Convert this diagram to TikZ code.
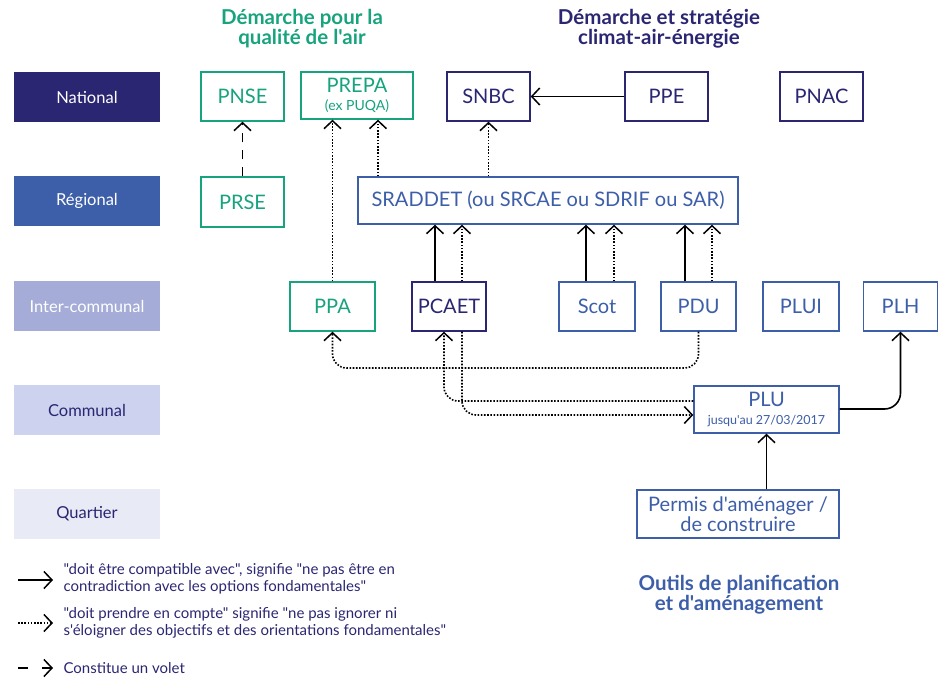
\documentclass[tikz,border=0pt]{standalone}
\usepackage{fontspec}
\setmainfont[Ligatures=TeXOff]{Lato}
\usetikzlibrary{arrows.meta}
\definecolor{cnavy}{HTML}{2A2672}
\definecolor{cblue}{HTML}{3D5EA8}
\definecolor{cgreen}{HTML}{17A37E}
\definecolor{cinter}{HTML}{A4ACD7}
\definecolor{ccomm}{HTML}{CDD2EE}
\definecolor{cquart}{HTML}{E8EAF6}
\newcommand\mytightlines{\lineskiplimit=-30pt\relax}
\tikzset{
  box/.style={draw, line width=1.4pt, fill=white, inner sep=0pt, align=center,
    font=\fontsize{20}{19.5}\selectfont\mytightlines},
  gbox/.style={box, draw=cgreen, text=cgreen},
  nbox/.style={box, draw=cnavy, text=cnavy},
  bbox/.style={box, draw=cblue, text=cblue},
  level/.style={minimum width=146pt, minimum height=50pt, inner sep=0pt,
    font=\fontsize{16.5}{17}\selectfont},
  head/.style={align=center, font=\bfseries\fontsize{20.5}{20}\selectfont\mytightlines},
  legtext/.style={anchor=west, align=left, text=cnavy, font=\fontsize{15}{16.5}\selectfont},
  arr/.style={line width=1.6pt, black, -{Straight Barb[length=8pt,width=17pt,line width=1.5pt]}},
  dotarr/.style={arr, dash pattern=on 1.6pt off 1.6pt, line width=1.6pt},
  dasharr/.style={arr, dash pattern=on 9pt off 8pt},
}
\begin{document}
\begin{tikzpicture}[x=1pt,y=-1pt]
\useasboundingbox (0,0) rectangle (938,680);
% levels
\node[level, fill=cnavy, text=white] (lnat) at (87,97) {National};
\node[level, fill=cblue, text=white] (lreg) at (87,201) {Régional};
\node[level, fill=cinter, text=white] (lint) at (87,306) {Inter-communal};
\node[level, fill=ccomm, text=cnavy] (lcom) at (87,410) {Communal};
\node[level, fill=cquart, text=cnavy] (lqua) at (87,514) {Quartier};
% headings
\node[head, text=cgreen] (h1) at (302,29) {Démarche pour la\\qualité de l'air};
\node[head, text=cnavy] (h2) at (659,29) {Démarche et stratégie\\climat-air-énergie};
\node[head, text=cblue] (h3) at (739,595) {Outils de planification\\et d'aménagement};
% national
\node[gbox, minimum width=83pt, minimum height=49pt] (PNSE) at (242.5,96.5) {PNSE};
\node[gbox, minimum width=112pt, minimum height=47pt] (PREPA) at (357,95.5) {PREPA\\[-2pt]{\fontsize{14}{14}\selectfont (ex PUQA)}};
\node[nbox, minimum width=83pt, minimum height=49pt] (SNBC) at (488.5,96.5) {SNBC};
\node[nbox, minimum width=83pt, minimum height=49pt] (PPE) at (666.5,96.5) {PPE};
\node[nbox, minimum width=83pt, minimum height=49pt] (PNAC) at (821.5,96.5) {PNAC};
% regional
\node[gbox, minimum width=83pt, minimum height=50pt] (PRSE) at (242.5,202) {PRSE};
\node[bbox, minimum width=380pt, minimum height=47pt] (SRADDET) at (548,200.5) {SRADDET (ou SRCAE ou SDRIF ou SAR)};
% inter-communal
\node[gbox, minimum width=85pt, minimum height=49pt] (PPA) at (332.5,306.5) {PPA};
\node[nbox, minimum width=74pt, minimum height=49pt] (PCAET) at (449,306.5) {PCAET};
\node[bbox, minimum width=76pt, minimum height=49pt] (Scot) at (597,306.5) {Scot};
\node[bbox, minimum width=75pt, minimum height=49pt] (PDU) at (698.5,306.5) {PDU};
\node[bbox, minimum width=76pt, minimum height=49pt] (PLUI) at (801,306.5) {PLUI};
\node[bbox, minimum width=74pt, minimum height=49pt] (PLH) at (900.5,306.5) {PLH};
% communal
\node[bbox, minimum width=145pt, minimum height=47pt] (PLU) at (766.5,409.5) {PLU\\[-2pt]{\fontsize{12.5}{13}\selectfont jusqu'au 27/03/2017}};
% quartier
\node[bbox, minimum width=202pt, minimum height=48pt] (Permis) at (738,514) {Permis d'aménager /\\de construire};
% helper x coordinates
\coordinate (xPrepaR) at (378,0);
\coordinate (xPcS) at (435,0);
\coordinate (xPcD) at (462,0);
\coordinate (xPcU) at (444,0);
\coordinate (xScS) at (586,0);
\coordinate (xScD) at (614,0);
\coordinate (xPdS) at (685,0);
\coordinate (xPdD) at (712,0);
\coordinate (yLow) at (0,368);
% connectors
\draw[dasharr] (PRSE.north) -- (PNSE.south);
\draw[dotarr] (PPA.north) -- (PPA.north |- PREPA.south);
\draw[dotarr] (SRADDET.north -| xPrepaR) -- (PREPA.south -| xPrepaR);
\draw[dotarr] (SRADDET.north -| SNBC.south) -- (SNBC.south);
\draw[arr] (PPE.west) -- (SNBC.east);
\draw[arr] (PCAET.north -| xPcS) -- (SRADDET.south -| xPcS);
\draw[dotarr] (PCAET.north -| xPcD) -- (SRADDET.south -| xPcD);
\draw[arr] (Scot.north -| xScS) -- (SRADDET.south -| xScS);
\draw[dotarr] (Scot.north -| xScD) -- (SRADDET.south -| xScD);
\draw[arr] (PDU.north -| xPdS) -- (SRADDET.south -| xPdS);
\draw[dotarr] (PDU.north -| xPdD) -- (SRADDET.south -| xPdD);
\draw[dotarr, rounded corners=14pt] (PDU.south) |- (PPA.south |- yLow) -- (PPA.south);
\draw[dotarr, rounded corners=14pt] (PCAET.south -| xPcD) |- ([yshift=-5.5pt]PLU.west);
\draw[dotarr, rounded corners=14pt] ([yshift=8.5pt]PLU.west) -| (PCAET.south -| xPcU);
\draw[arr, rounded corners=16pt] ([yshift=0.5pt]PLU.east) -| (PLH.south);
\draw[arr] (Permis.north -| PLU.south) -- (PLU.south);
% legend
\coordinate (la1) at (18,580); \coordinate (lb1) at (53,580);
\coordinate (la2) at (18,623); \coordinate (lb2) at (53,623);
\coordinate (la3) at (18,668); \coordinate (lb3) at (53,668);
\draw[arr] (la1) -- (lb1);
\draw[dotarr] (la2) -- (lb2);
\draw[arr, dash pattern=on 10pt off 14pt] (la3) -- (lb3);
\node[legtext] (t1) at (60,579) {"doit être compatible avec", signifie "ne pas être en\\contradiction avec les options fondamentales"};
\node[legtext] (t2) at (60,623) {"doit prendre en compte" signifie "ne pas ignorer ni\\s'éloigner des objectifs et des orientations fondamentales"};
\node[legtext] (t3) at (60,668) {Constitue un volet};
\end{tikzpicture}
\end{document}
